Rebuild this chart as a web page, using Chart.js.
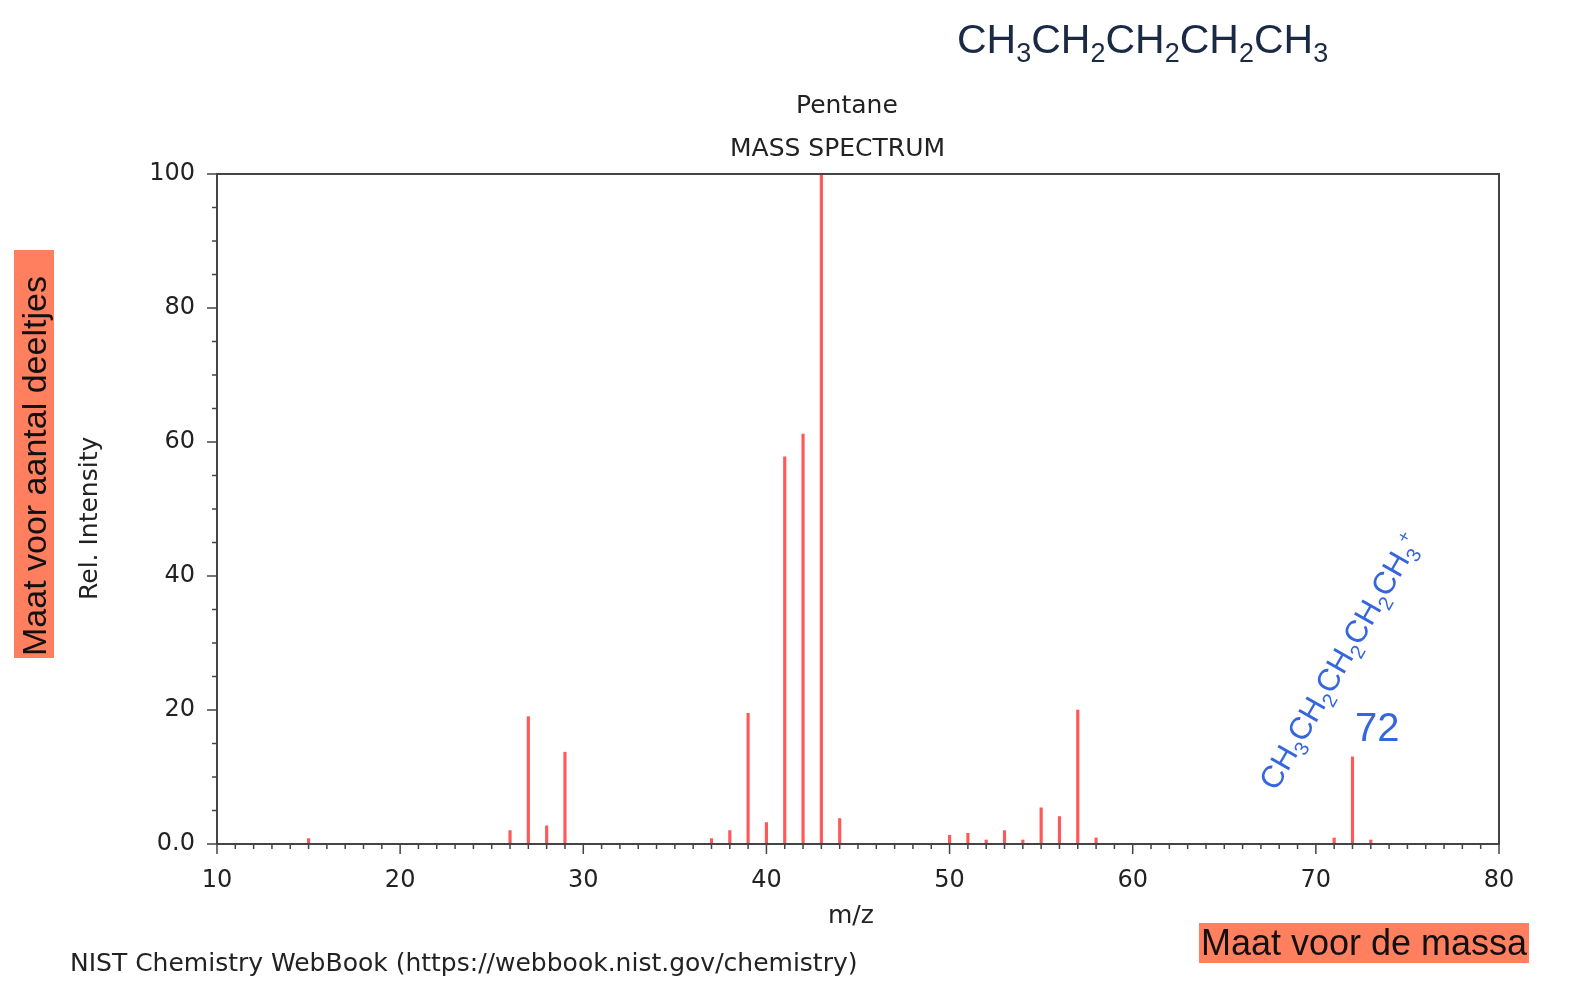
<!DOCTYPE html>
<html>
<head>
<meta charset="utf-8">
<script src="https://cdn.jsdelivr.net/npm/chart.js@4/dist/chart.umd.min.js"></script>
<style>
  body { margin: 0; background: #fff; width: 1577px; height: 992px; overflow: hidden; position: relative; font-family: "Liberation Sans", Arial, sans-serif; }
  #wrap { position: absolute; left: 0; top: 0; width: 1577px; height: 992px; }
  .t { position: absolute; white-space: nowrap; }
  .dv { font-family: "DejaVu Sans", sans-serif; color: #222; font-size: 25px; }
  .tag { background: #ff7f5f; color: #111; font-size: 34px; padding: 0 2px; line-height: 40px; }
  .blue { color: #3566dd; }
</style>
</head>
<body>
<div id="wrap"><canvas id="myChart" width="1577" height="992"></canvas></div>
<div class="t" style="left:957px;top:16px;font-size:41px;color:#1a2a44;">CH<sub style="font-size:27px">3</sub>CH<sub style="font-size:27px">2</sub>CH<sub style="font-size:27px">2</sub>CH<sub style="font-size:27px">2</sub>CH<sub style="font-size:27px">3</sub></div>
<div class="t dv" style="left:796px;top:90px;">Pentane</div>
<div class="t dv" style="left:730px;top:133px;">MASS SPECTRUM</div>
<div class="t dv" style="left:828px;top:900px;">m/z</div>
<div class="t dv" style="left:74px;top:600px;transform:rotate(-90deg);transform-origin:0 0;">Rel. Intensity</div>
<div class="t dv" style="left:70px;top:948px;">NIST Chemistry WebBook (https://webbook.nist.gov/chemistry)</div>
<div class="t tag" style="left:14px;top:658px;transform:rotate(-90deg);transform-origin:0 0;width:404px;">Maat voor aantal deeltjes</div>
<div class="t tag" style="left:1199px;top:923px;font-size:36px;">Maat voor de massa</div>
<div class="t blue" style="left:1355px;top:705px;font-size:40px;">72</div>
<div class="t blue" style="left:1252px;top:778px;font-size:31px;transform:rotate(-60deg);transform-origin:0 0;">CH<sub style="font-size:20px">3</sub>CH<sub style="font-size:20px">2</sub>CH<sub style="font-size:20px">2</sub>CH<sub style="font-size:20px">2</sub>CH<sub style="font-size:20px">3</sub><sup style="font-size:18px">+</sup></div>
<script>
var mz = [15, 26, 27, 28, 29, 37, 38, 39, 40, 41, 42, 43, 44, 50, 51, 52, 53, 54, 55, 56, 57, 58, 71, 72, 73];
var intensity = [0.8, 2.0, 19.0, 2.7, 13.7, 0.8, 2.0, 19.5, 3.2, 57.8, 61.2, 100, 3.8, 1.3, 1.6, 0.6, 2.0, 0.6, 5.4, 4.1, 20.0, 0.9, 0.9, 13.0, 0.6];
var yTicks = [0, 20, 40, 60, 80, 100];

var points = [];
for (var i = 0; i < mz.length; i++) {
    points.push({x: mz[i], y: intensity[i]});
}

var font = {family: 'DejaVu Sans', size: 24};

// box + minor/major tick marks like the NIST plot
var frame = {
    id: 'frame',
    afterDraw: function (chart) {
        var c = chart.ctx, a = chart.chartArea, xs = chart.scales.x, ys = chart.scales.y;
        c.save();
        c.strokeStyle = '#444';
        c.lineWidth = 2;
        c.strokeRect(a.left, a.top, a.right - a.left, a.bottom - a.top);
        c.lineWidth = 1.5;
        for (var v = 10; v <= 80; v++) {
            var px = xs.getPixelForValue(v);
            var len = v % 10 === 0 ? 10 : 5;
            c.beginPath(); c.moveTo(px, a.bottom); c.lineTo(px, a.bottom + len); c.stroke();
        }
        for (var w = 0; w <= 100; w += 5) {
            var py = ys.getPixelForValue(w);
            var l2 = w % 20 === 0 ? 10 : 5;
            c.beginPath(); c.moveTo(a.left, py); c.lineTo(a.left - l2, py); c.stroke();
        }
        c.restore();
    }
};

var ctx = document.getElementById('myChart');
var myChart = new Chart(ctx, {
    type: 'bar',
    data: {
        datasets: [{
            data: points,
            backgroundColor: 'rgba(255, 70, 70, 0.9)',
            barThickness: 2.5
        }]
    },
    plugins: [frame],
    options: {
        responsive: false,
        animation: false,
        layout: {padding: {top: 174, right: 78, left: 0, bottom: 0}},
        plugins: {legend: {display: false}, tooltip: {enabled: false}},
        scales: {
            x: {
                type: 'linear', min: 10, max: 80, offset: false,
                grid: {display: false}, border: {display: false},
                ticks: {stepSize: 10, color: '#222', font: font, padding: 14, maxRotation: 0},
                afterFit: function (s) { s.height = 148; }
            },
            y: {
                min: 0, max: 100,
                grid: {display: false}, border: {display: false},
                afterBuildTicks: function (s) { s.ticks = yTicks.map(function (v) { return {value: v}; }); },
                ticks: {color: '#222', font: font, padding: 14,
                    callback: function (v) { return v === 0 ? '0.0' : v; }},
                afterFit: function (s) { s.width = 217; }
            }
        }
    }
});
</script>
</body>
</html>
